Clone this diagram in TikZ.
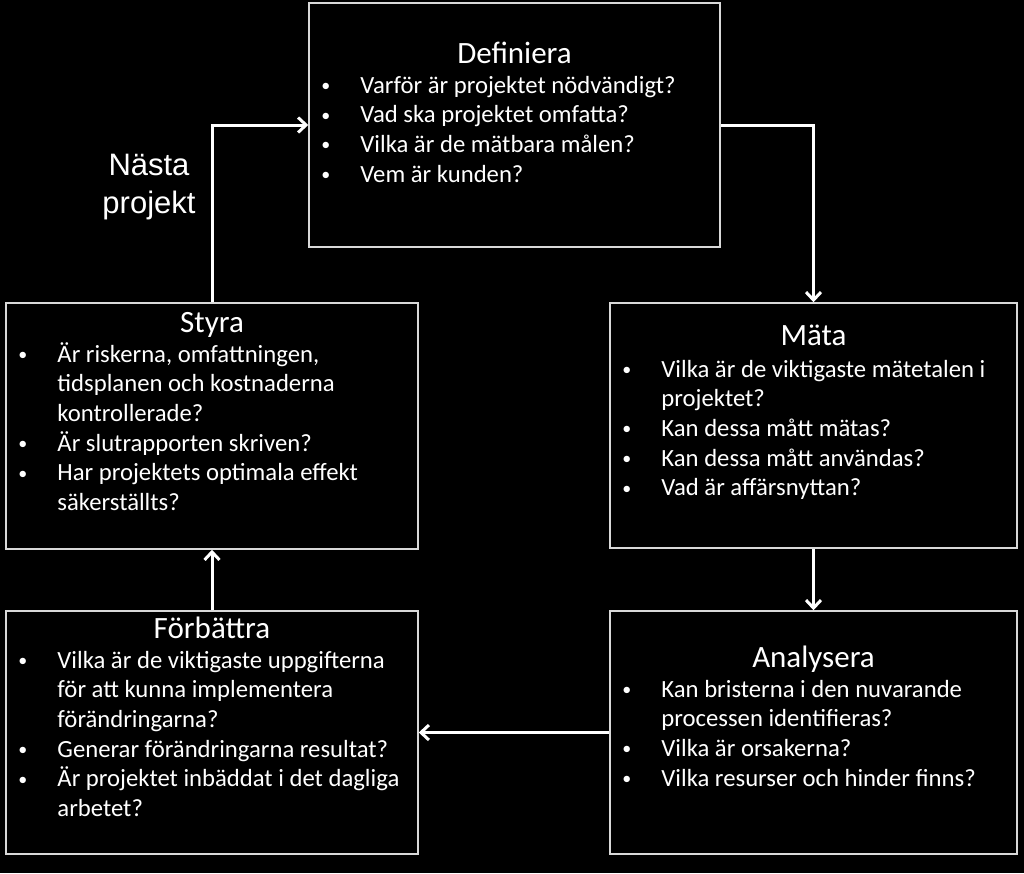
\documentclass[tikz,border=0pt]{standalone}
\usepackage{fontspec}
\setmainfont{Carlito}
\newfontfamily\arialfont{Liberation Sans}
\usetikzlibrary{arrows.meta}

\newcommand{\pkt}{\raisebox{1.5pt}{\fontsize{18}{20}\selectfont\textbullet} &}
\newcommand{\lista}[1]{\begin{tabular}[t]{@{}p{39pt}@{}l@{}}#1\end{tabular}}

\begin{document}
\begin{tikzpicture}[x=1pt,y=-1pt,
  ruta/.style = {draw=white!85!black, line width=1.5pt, fill=black, inner sep=0pt},
  rubrik/.style = {text=white, font=\fontsize{31}{37}\selectfont, anchor=base, inner sep=0pt},
  punkter/.style = {text=white, font=\fontsize{24.7}{29.6}\selectfont, anchor=base west, inner sep=0pt},
  pil/.style = {draw=white, line width=3pt, -{Straight Barb[length=8pt,width=15pt]}}]
  \fill[black] (0,0) rectangle (1024,873);
  % the five steps
  \node[ruta, minimum width=411pt, minimum height=244pt] (def) at (514.5,125) {};
  \node[ruta, minimum width=412pt, minimum height=246pt] (sty) at (212,426) {};
  \node[ruta, minimum width=407pt, minimum height=245pt] (mat) at (813.5,425.5) {};
  \node[ruta, minimum width=412pt, minimum height=243pt] (forb) at (212,732.5) {};
  \node[ruta, minimum width=407pt, minimum height=243pt] (ana) at (813.5,732.5) {};
  % titles
  \node[rubrik] (def-t) at ([yshift=-61pt]def.north) {Definiera};
  \node[rubrik] (sty-t) at ([yshift=-30pt]sty.north) {Styra};
  \node[rubrik] (mat-t) at ([yshift=-43pt]mat.north) {Mäta};
  \node[rubrik] (forb-t) at ([yshift=-28pt]forb.north) {Förbättra};
  \node[rubrik] (ana-t) at ([yshift=-57pt]ana.north) {Analysera};
  % questions
  \node[punkter] (def-l) at ([xshift=13pt,yshift=-91pt]def.north west) {\lista{
    \pkt Varför är projektet nödvändigt?\\
    \pkt Vad ska projektet omfatta?\\
    \pkt Vilka är de mätbara målen?\\
    \pkt Vem är kunden?}};
  \node[punkter] (sty-l) at ([xshift=13pt,yshift=-60pt]sty.north west) {\lista{
    \pkt Är riskerna, omfattningen,\\
    & tidsplanen och kostnaderna\\
    & kontrollerade?\\
    \pkt Är slutrapporten skriven?\\
    \pkt Har projektets optimala effekt\\
    & säkerställts?}};
  \node[punkter] (mat-l) at ([xshift=13pt,yshift=-75pt]mat.north west) {\lista{
    \pkt Vilka är de viktigaste mätetalen i\\
    & projektet?\\
    \pkt Kan dessa mått mätas?\\
    \pkt Kan dessa mått användas?\\
    \pkt Vad är affärsnyttan?}};
  \node[punkter] (forb-l) at ([xshift=13pt,yshift=-58pt]forb.north west) {\lista{
    \pkt Vilka är de viktigaste uppgifterna\\
    & för att kunna implementera\\
    & förändringarna?\\
    \pkt Generar förändringarna resultat?\\
    \pkt Är projektet inbäddat i det dagliga\\
    & arbetet?}};
  \node[punkter] (ana-l) at ([xshift=13pt,yshift=-87pt]ana.north west) {\lista{
    \pkt Kan bristerna i den nuvarande\\
    & processen identifieras?\\
    \pkt Vilka är orsakerna?\\
    \pkt Vilka resurser och hinder finns?}};
  % the cycle
  \draw[pil] (def.east) -| (mat.north);
  \draw[pil] (mat.south) -- (ana.north);
  \draw[pil] (ana.west) -- (forb.east);
  \draw[pil] (forb.north) -- (sty.south);
  \draw[pil] (sty.north) |- (def.west);
  \node[text=white, anchor=base, inner sep=0pt, font=\arialfont\fontsize{31}{38}\selectfont] (nasta) at (149,175)
    {\begin{tabular}[t]{@{}c@{}}Nästa\\projekt\end{tabular}};
\end{tikzpicture}
\end{document}
